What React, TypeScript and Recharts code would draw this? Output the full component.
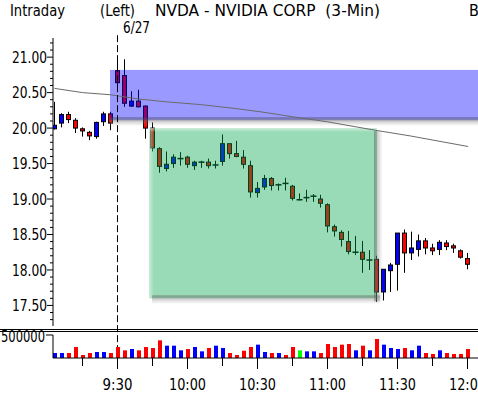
import { ComposedChart, Bar, Line, XAxis, YAxis, ReferenceArea, ReferenceLine, Cell } from "recharts";

const FONT = "'Liberation Sans Narrow', 'DejaVu Sans Condensed', 'Arial Narrow', sans-serif";
const UP = "#0000ff";
const DOWN = "#ff0000";
const FLAT = "#00ff00";

// 3-minute bars, index 0 = 9:30
const FIRST_BAR = -9;
const OPEN = [19.99, 20.07, 20.19, 20.11, 19.99, 19.94, 19.88, 20.09, 20.2, 20.81, 20.74, 20.31, 20.38, 20.31, 20.0, 19.71, 19.43, 19.5, 19.57, 19.59, 19.47, 19.52, 19.52, 19.48, 19.53, 19.78, 19.64, 19.59, 19.47, 19.09, 19.17, 19.29, 19.2, 19.22, 19.18, 18.99, 19.02, 19.04, 19.0, 18.92, 18.61, 18.53, 18.4, 18.25, 18.25, 18.14, 18.15, 17.69, 17.99, 18.08, 18.52, 18.24, 18.29, 18.41, 18.31, 18.29, 18.38, 18.34, 18.27, 18.16];
const HIGH = [20.37, 20.21, 20.23, 20.14, 20.01, 19.96, 20.09, 20.23, 20.23, 20.95, 20.97, 20.52, 20.54, 20.32, 20.08, 19.73, 19.67, 19.63, 19.66, 19.61, 19.54, 19.54, 19.57, 19.54, 19.91, 19.78, 19.82, 19.69, 19.54, 19.24, 19.34, 19.31, 19.22, 19.3, 19.2, 19.08, 19.13, 19.07, 19.06, 18.94, 18.64, 18.56, 18.55, 18.48, 18.41, 18.28, 18.2, 18.01, 18.1, 18.52, 18.57, 18.54, 18.5, 18.45, 18.37, 18.42, 18.42, 18.37, 18.29, 18.24];
const LOW = [19.98, 20.01, 20.07, 19.93, 19.88, 19.83, 19.85, 20.03, 19.97, 20.55, 20.3, 20.3, 20.29, 19.85, 19.67, 19.37, 19.39, 19.44, 19.47, 19.44, 19.41, 19.44, 19.43, 19.43, 19.47, 19.57, 19.59, 19.43, 19.02, 19.02, 19.13, 19.12, 19.12, 19.12, 18.98, 18.98, 18.96, 18.96, 18.88, 18.53, 18.47, 18.33, 18.22, 18.21, 17.96, 18.0, 17.55, 17.57, 17.69, 17.71, 17.96, 18.14, 18.19, 18.22, 18.21, 18.21, 18.28, 18.24, 18.16, 18.01];
const CLOSE = [20.04, 20.19, 20.12, 20.0, 19.96, 19.89, 20.08, 20.2, 20.07, 20.64, 20.35, 20.38, 20.3, 20.0, 19.72, 19.46, 19.49, 19.59, 19.57, 19.49, 19.52, 19.5, 19.47, 19.48, 19.78, 19.64, 19.6, 19.49, 19.1, 19.15, 19.29, 19.19, 19.2, 19.22, 19.01, 18.99, 19.02, 19.04, 18.94, 18.62, 18.55, 18.43, 18.26, 18.23, 18.15, 18.14, 17.69, 18.01, 18.07, 18.52, 18.24, 18.31, 18.41, 18.31, 18.27, 18.39, 18.33, 18.31, 18.18, 18.08];
// volume in thousands, and tick direction (1 up, -1 down, 0 unchanged)
const VOLUME = [109, 109, 109, 239, 65, 109, 130, 130, 109, 239, 167, 196, 167, 239, 217, 384, 268, 268, 167, 196, 239, 145, 217, 268, 217, 109, 65, 159, 239, 290, 130, 109, 109, 65, 239, 167, 145, 145, 109, 304, 239, 290, 304, 167, 268, 167, 413, 290, 217, 196, 217, 167, 268, 109, 87, 167, 109, 87, 87, 196];
const VOL_DIR = [1, 1, -1, -1, -1, -1, 1, 1, -1, -1, -1, 1, -1, -1, -1, -1, 1, 1, 1, -1, 1, 1, -1, 1, 1, -1, -1, -1, -1, 1, 1, -1, 1, -1, -1, 0, 1, 1, -1, -1, -1, -1, -1, 1, -1, 1, -1, 1, 1, 1, -1, 1, 1, -1, -1, 1, -1, -1, -1, -1];

// moving average read at a few bars
const MA_BARS = [-9, -5, -1, 3, 7, 12, 16.5, 20.4, 25, 29.9, 36.8, 41.8, 50.1];
const MA_VALUES = [20.56, 20.5, 20.47, 20.41, 20.37, 20.33, 20.28, 20.23, 20.16, 20.09, 19.97, 19.89, 19.74];

const PRICE_LABELS = [17.5, 18, 18.5, 19, 19.5, 20, 20.5, 21];
const TIME_LABELS = ["9:30", "10:00", "10:30", "11:00", "11:30", "12:00"];
const TIME_BARS = [0, 10, 20, 30, 40, 50];
const QUARTER_BARS = [-5, 5, 15, 25, 35, 45];

const BLUE_ZONE = { from: -1.07, to: 51.5, low: 20.11, high: 20.82 };
const GREEN_ZONE = { from: 4.5, to: 37.07, low: 17.6, high: 20.0 };

const X_DOMAIN: [number, number] = [-9.214, 51.5];
const PRICE_DOMAIN: [number, number] = [17.21, 21.27];

const candles = OPEN.map((o, i) => ({
  bar: FIRST_BAR + i,
  open: o,
  high: HIGH[i],
  low: LOW[i],
  close: CLOSE[i],
  vol: VOLUME[i] * 1000,
  dir: VOL_DIR[i],
}));

const maData = MA_BARS.map((b, i) => ({ bar: b, ma: MA_VALUES[i] }));

const priceTicks: number[] = [];
for (let t = 17.3; t <= 21.25; t += 0.1) priceTicks.push(Math.round(t * 10) / 10);

const Candle = (props: any) => {
  const { x, y, width, height, payload } = props;
  const { open, close, high, low } = payload;
  const top = Math.min(y, y + height);
  const h = Math.abs(height);
  const cx = Math.round(x + width / 2) + 0.5;
  const toY = (p: number) => top + ((high - p) / (high - low)) * h;
  const yo = toY(open);
  const yc = toY(close);
  const bodyH = Math.abs(yc - yo);
  return (
    <g>
      <line x1={cx} x2={cx} y1={top} y2={top + h} stroke="#000" />
      {bodyH < 1.5 ? (
        <line x1={cx - 3} x2={cx + 3} y1={yo} y2={yo} stroke="#000" strokeWidth={1.5} />
      ) : (
        <rect
          x={cx - 2}
          y={Math.min(yo, yc)}
          width={4}
          height={bodyH}
          fill={close > open ? UP : DOWN}
          stroke="#000"
        />
      )}
    </g>
  );
};

const PriceTick = (props: any) => {
  const { x, y, payload } = props;
  const v = payload.value;
  const major = PRICE_LABELS.some((l) => Math.abs(l - v) < 0.001);
  return (
    <g>
      <line x1={x - (major ? 6 : 3)} x2={x} y1={y} y2={y} stroke="#000" />
      {major && (
        <text
          x={x - 6}
          y={y}
          dy="0.36em"
          textAnchor="end"
          fontSize={16}
          fontFamily={FONT}
          fill="#000"
          textLength={35}
          lengthAdjust="spacingAndGlyphs"
        >
          {v.toFixed(2)}
        </text>
      )}
    </g>
  );
};

const TimeTick = (props: any) => {
  const { x, y, payload } = props;
  const idx = TIME_BARS.indexOf(payload.value);
  const label = idx >= 0 ? TIME_LABELS[idx] : "";
  return (
    <g>
      <line x1={x} x2={x} y1={y} y2={y + (idx >= 0 ? 11 : 8)} stroke="#000" />
      {idx >= 0 && (
        <text
          x={x}
          y={y + 32}
          textAnchor="middle"
          fontSize={16}
          fontFamily={FONT}
          fill="#000"
          textLength={label.length === 4 ? 30 : 37}
          lengthAdjust="spacingAndGlyphs"
        >
          {label}
        </text>
      )}
    </g>
  );
};

const VolTick = (props: any) => {
  const { x, y, payload } = props;
  return (
    <g>
      <line x1={x - 7} x2={x} y1={y} y2={y} stroke="#000" />
      <text
        x={x - 8}
        y={y}
        dy="0.42em"
        textAnchor="end"
        fontSize={16}
        fontFamily={FONT}
        fill="#000"
        textLength={44}
        lengthAdjust="spacingAndGlyphs"
      >
        {payload.value}
      </text>
    </g>
  );
};

const BlueZoneShape = (p: any) => {
  const { x, y, width, height } = p;
  return (
    <g>
      <defs>
        <linearGradient id="blueShade" x1="0" y1="0" x2="0" y2="1">
          <stop offset="0" stopColor="#404050" stopOpacity={0.5} />
          <stop offset="0.4" stopColor="#707070" stopOpacity={0.4} />
          <stop offset="1" stopColor="#a0a0a0" stopOpacity={0} />
        </linearGradient>
      </defs>
      <rect x={x} y={y} width={width} height={height} fill="#0000ff" fillOpacity={0.4} />
      <rect x={x} y={y + height - 3} width={width} height={9} fill="url(#blueShade)" />
    </g>
  );
};

const GreenZoneShape = (p: any) => {
  const { x, y, width, height } = p;
  return (
    <g>
      <defs>
        <linearGradient id="greenShadeR" x1="0" y1="0" x2="1" y2="0">
          <stop offset="0" stopColor="#505050" stopOpacity={0.45} />
          <stop offset="0.4" stopColor="#707070" stopOpacity={0.35} />
          <stop offset="1" stopColor="#a0a0a0" stopOpacity={0} />
        </linearGradient>
        <linearGradient id="greenShadeB" x1="0" y1="0" x2="0" y2="1">
          <stop offset="0" stopColor="#505050" stopOpacity={0.45} />
          <stop offset="0.4" stopColor="#707070" stopOpacity={0.35} />
          <stop offset="1" stopColor="#a0a0a0" stopOpacity={0} />
        </linearGradient>
        <linearGradient id="greenLightL" x1="0" y1="0" x2="1" y2="0">
          <stop offset="0" stopColor="#ffffff" stopOpacity={0.5} />
          <stop offset="1" stopColor="#ffffff" stopOpacity={0} />
        </linearGradient>
        <linearGradient id="greenLightT" x1="0" y1="0" x2="0" y2="1">
          <stop offset="0" stopColor="#ffffff" stopOpacity={0.5} />
          <stop offset="1" stopColor="#ffffff" stopOpacity={0} />
        </linearGradient>
      </defs>
      <rect x={x} y={y} width={width} height={height} fill="rgb(0,164,75)" fillOpacity={0.4} />
      <rect x={x} y={y} width={5} height={height} fill="url(#greenLightL)" />
      <rect x={x} y={y} width={width} height={4} fill="url(#greenLightT)" />
      <rect x={x + width - 3} y={y + 3} width={9} height={height} fill="url(#greenShadeR)" />
      <rect x={x + 3} y={y + height - 3} width={width} height={9} fill="url(#greenShadeB)" />
    </g>
  );
};

const layer = { position: "absolute" as const, left: 0, top: 0 };

export default function App() {
  return (
    <div style={{ position: "absolute", left: 0, top: 0, width: 478, height: 394, background: "#fff", overflow: "hidden" }}>
      <div style={layer}>
        <ComposedChart width={478} height={394} data={candles} margin={{ top: 38, right: 0, bottom: 68, left: 0 }}>
          <XAxis dataKey="bar" type="number" domain={X_DOMAIN} hide allowDataOverflow />
          <YAxis
            type="number"
            domain={PRICE_DOMAIN}
            allowDataOverflow
            width={53}
            ticks={priceTicks}
            interval={0}
            tickSize={0}
            tickMargin={0}
            tickLine={false}
            axisLine={{ stroke: "#000" }}
            tick={<PriceTick />}
          />
          <Bar dataKey={(d: any) => [d.low, d.high]} barSize={5} shape={<Candle />} isAnimationActive={false} />
        </ComposedChart>
      </div>
      <div style={layer}>
        <ComposedChart width={478} height={394} data={maData} margin={{ top: 38, right: 0, bottom: 68, left: 53 }}>
          <XAxis dataKey="bar" type="number" domain={X_DOMAIN} hide allowDataOverflow />
          <YAxis type="number" domain={PRICE_DOMAIN} hide allowDataOverflow />
          <ReferenceArea
            x1={BLUE_ZONE.from}
            x2={BLUE_ZONE.to}
            y1={BLUE_ZONE.low}
            y2={BLUE_ZONE.high}
            ifOverflow="visible"
            shape={<BlueZoneShape />}
          />
          <ReferenceArea
            x1={GREEN_ZONE.from}
            x2={GREEN_ZONE.to}
            y1={GREEN_ZONE.low}
            y2={GREEN_ZONE.high}
            ifOverflow="visible"
            shape={<GreenZoneShape />}
          />
          <Line dataKey="ma" type="linear" stroke="#6a6a6a" strokeWidth={1} dot={false} isAnimationActive={false} />
          <ReferenceLine
            segment={[{ x: 0, y: 21.31 }, { x: 0, y: 16.76 }]}
            ifOverflow="visible"
            stroke="#000"
            strokeDasharray="7 3"
          />
        </ComposedChart>
      </div>
      <div style={layer}>
        <ComposedChart width={478} height={394} data={candles} margin={{ top: 335, right: 0, bottom: 0, left: 0 }}>
          <XAxis
            dataKey="bar"
            type="number"
            domain={X_DOMAIN}
            allowDataOverflow
            height={36}
            ticks={[...QUARTER_BARS, ...TIME_BARS].sort((a, b) => a - b)}
            interval={0}
            tickSize={0}
            tickMargin={0}
            tickLine={false}
            axisLine={{ stroke: "#000" }}
            tick={<TimeTick />}
          />
          <YAxis
            type="number"
            domain={[0, 500000]}
            allowDataOverflow
            width={53}
            ticks={[500000]}
            tickSize={0}
            tickMargin={0}
            tickLine={false}
            axisLine={{ stroke: "#000" }}
            tick={<VolTick />}
          />
          <Bar dataKey="vol" barSize={4} isAnimationActive={false}>
            {candles.map((c, i) => (
              <Cell key={`v-${i}`} fill={c.dir > 0 ? UP : c.dir < 0 ? DOWN : FLAT} />
            ))}
          </Bar>
        </ComposedChart>
      </div>
      <svg style={{ ...layer, pointerEvents: "none" }} width={478} height={394}>
        <g fontFamily={FONT} fontSize={16} fill="#000">
          <text x={10} y={16} textLength={55} lengthAdjust="spacingAndGlyphs">Intraday</text>
          <text x={100} y={16} textLength={35} lengthAdjust="spacingAndGlyphs">(Left)</text>
          <text x={155} y={16} textLength={225} lengthAdjust="spacingAndGlyphs" style={{ whiteSpace: "pre" }}>
            NVDA - NVIDIA CORP  (3-Min)
          </text>
          <text x={469} y={16}>B</text>
          <text x={123} y={33} textLength={27} lengthAdjust="spacingAndGlyphs">6/27</text>
        </g>
        <line x1={0} x2={478} y1={329.5} y2={329.5} stroke="#000" />
        <line x1={0} x2={478} y1={331.5} y2={331.5} stroke="#000" />
      </svg>
    </div>
  );
}
